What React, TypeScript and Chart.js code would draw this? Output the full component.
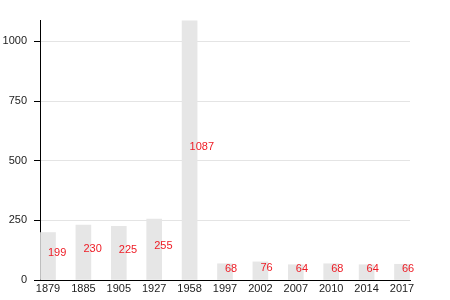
import React, { useEffect, useRef } from "react";
import { Chart, registerables } from "chart.js";

Chart.register(...registerables);

const years = ["1879", "1885", "1905", "1927", "1958", "1997", "2002", "2007", "2010", "2014", "2017"];
const population = [199, 230, 225, 255, 1087, 68, 76, 64, 68, 64, 66];
const yTicks = [0, 250, 500, 750, 1000];

const valueLabels = {
  id: "valueLabels",
  afterDatasetsDraw(chart: any) {
    const ctx = chart.ctx;
    const meta = chart.getDatasetMeta(0);
    ctx.save();
    ctx.font = "11px 'Liberation Sans', Arial, sans-serif";
    ctx.fillStyle = "#ee1c25";
    ctx.textAlign = "left";
    ctx.textBaseline = "middle";
    meta.data.forEach((el: any, i: number) => {
      const cy = (el.y + el.base) / 2 - 3;
      ctx.fillText(String(population[i]), el.x, cy);
    });
    ctx.restore();
  },
};

export default function App() {
  const ref = useRef<HTMLCanvasElement>(null);
  useEffect(() => {
    if (!ref.current) return;
    const chart = new Chart(ref.current, {
      type: "bar",
      data: {
        datasets: [
          {
            data: population.map((v, i) => ({ x: i, y: v })),
            backgroundColor: "#e6e6e6",
            barThickness: 15,
          },
        ],
      },
      options: {
        animation: false,
        responsive: false,
        maintainAspectRatio: false,
        layout: { padding: { top: 20, right: 40, left: 0, bottom: 0 } },
        plugins: { legend: { display: false }, tooltip: { enabled: false } },
        scales: {
          x: {
            type: "linear",
            offset: false,
            min: -0.226,
            max: 10.226,
            grid: { display: false, drawTicks: false, offset: false },
            border: { display: true, color: "#000", width: 1 },
            ticks: {
              stepSize: 1,
              includeBounds: false,
              autoSkip: false,
              maxRotation: 0,
              padding: 2,
              color: "#222",
              font: { family: "'Liberation Sans', Arial, sans-serif", size: 11 },
              callback: (v: any) => (Number.isInteger(v) ? years[v] : ""),
            },
            afterFit: (s: any) => {
              s.height = 20;
            },
          },
          y: {
            type: "linear",
            min: 0,
            max: 1090,
            grid: { color: "#e4e4e4", tickColor: "#000", tickLength: 6 },
            border: { display: true, color: "#000", width: 1 },
            ticks: {
              stepSize: 250,
              includeBounds: false,
              padding: 7,
              color: "#222",
              font: { family: "'Liberation Sans', Arial, sans-serif", size: 11 },
              callback: (v: any) => String(v),
            },
            afterBuildTicks: (s: any) => {
              s.ticks = yTicks.map((v) => ({ value: v }));
            },
            afterFit: (s: any) => {
              s.width = 40;
            },
          },
        },
      },
      plugins: [valueLabels],
    });
    return () => chart.destroy();
  }, []);
  return (
    <div style={{ position: "absolute", left: 0, top: 0, width: 450, height: 300, background: "#fff" }}>
      <canvas ref={ref} width={450} height={300} style={{ width: 450, height: 300 }} />
    </div>
  );
}
